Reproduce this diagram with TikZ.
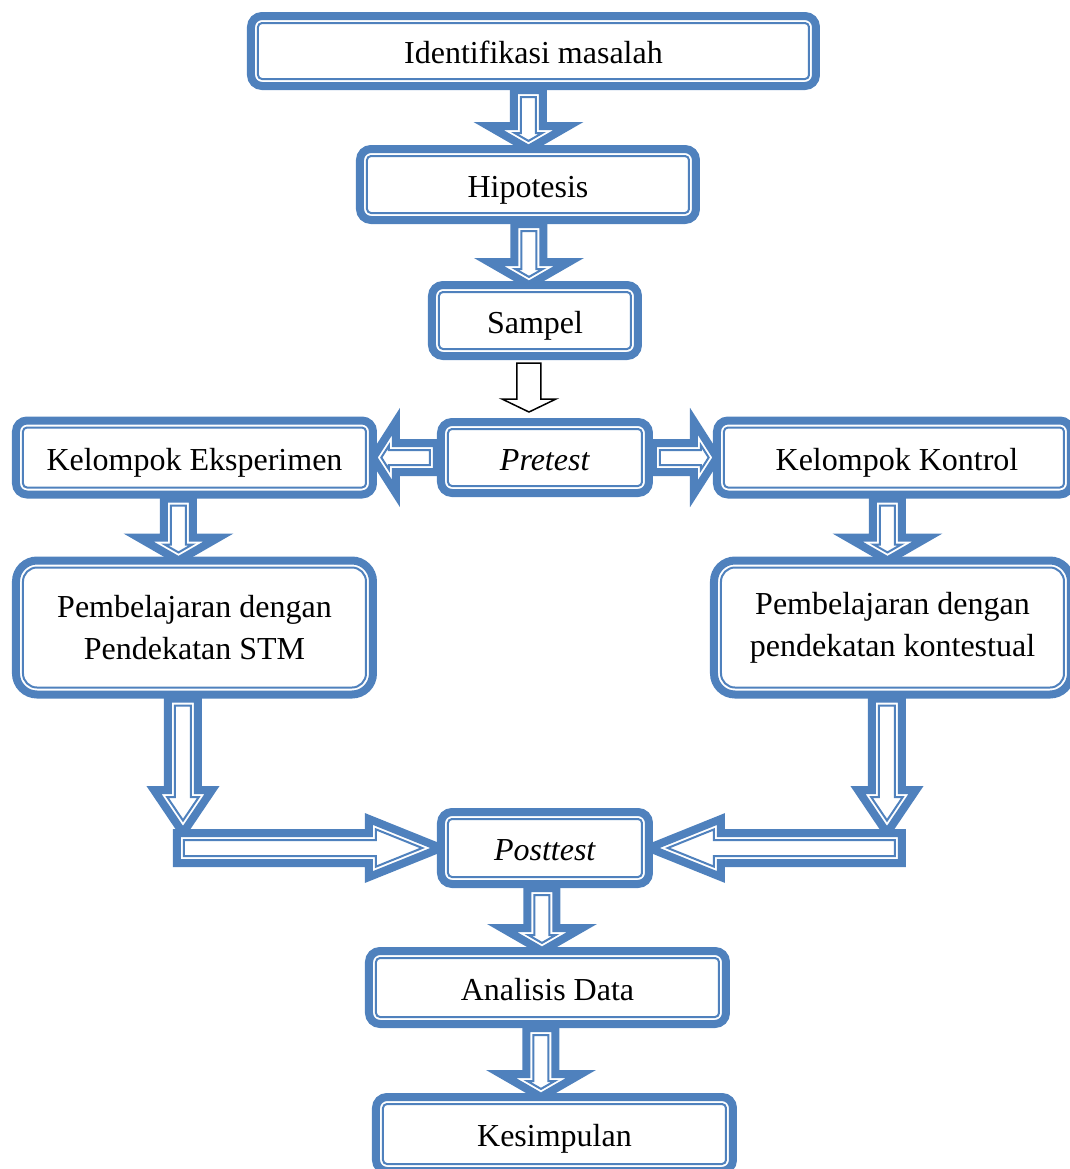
\documentclass[tikz,border=0pt]{standalone}
\usepackage{fontspec}
\setmainfont{Liberation Serif}
\usepackage{xcolor}
\usetikzlibrary{positioning,calc}
\definecolor{OBlue}{HTML}{4F81BD}
\pgfdeclarelayer{back}
\pgfsetlayers{back,main}

% one arrow outline: style, tail, tip, half shaft, half head, head length
\newcommand{\arrowshape}[6]{%
  \path #2 coordinate (aT) #3 coordinate (aH);
  \path ($(aH)!#6!(aT)$) coordinate (aB);
  \filldraw[#1] ($(aT)!#4!90:(aH)$) -- ($(aB)!#4!90:(aH)$) -- ($(aB)!#5!90:(aH)$)
    -- (aH) -- ($(aB)!#5!-90:(aH)$) -- ($(aB)!#4!-90:(aH)$) -- ($(aT)!#4!-90:(aH)$) -- cycle;
}
% thick-thin block arrow: tail, tip, half shaft, half head, head length
\newcommand{\blockarrow}[5]{%
  \path #1 coordinate (bT) #2 coordinate (bH);
  \pgfmathsetlengthmacro\tipin{3.5pt/sin(atan(#4/#5))}%
  \pgfmathsetlengthmacro\lenin{#5-3.5pt-\tipin}%
  \pgfmathsetlengthmacro\headin{#4*\lenin/#5}%
  \pgfmathsetlengthmacro\shaftin{#3-3.5pt}%
  \arrowshape{thickarr}{(bT)}{(bH)}{#3}{#4}{#5}
  \arrowshape{thinarr}{($(bT)!3.5pt!(bH)$)}{($(bH)!\tipin!(bT)$)}{\shaftin}{\headin}{\lenin}
}

\begin{document}
\begin{tikzpicture}[
  node distance=29pt,
  box/.style={draw=OBlue,line width=4pt,outer sep=2pt,rounded corners=5.5pt,fill=white,
    minimum width=178.5pt,minimum height=35.5pt,inner sep=0pt,align=center,
    text height=12.8pt,text depth=0pt,font=\fontsize{16pt}{21pt}\selectfont},
  tallbox/.style={box,rounded corners=10.5pt,minimum height=67pt,text height=,text depth=},
  inline/.style={draw=OBlue,line width=1pt},
  thickarr/.style={draw=OBlue,fill=white,line width=4pt,line join=miter},
  thinarr/.style={draw=OBlue,fill=white,line width=1pt,line join=miter},
  plainarr/.style={draw=black,fill=white,line width=0.75pt,line join=miter}
]
  \useasboundingbox (-266.75pt,25.5pt) rectangle (268.25pt,-559pt);

  \node[box,minimum width=282.5pt,minimum height=35pt] (ident) {Identifikasi masalah};
  \node[box,minimum width=168pt,below=27.5pt of ident,xshift=-2.75pt] (hipo) {Hipotesis};
  \node[box,minimum width=103pt,below=28.5pt of hipo,xshift=3.5pt] (sampel) {Sampel};
  \node[box,minimum width=104pt,below=29pt of sampel,xshift=5pt] (pretest) {\textit{Pretest}};
  \node[box,minimum height=37pt,left=30pt of pretest] (eksp) {Kelompok Eksperimen};
  \node[box,minimum width=177pt,minimum height=37pt,right=30pt of pretest] (kontrol) {\hspace{3pt}Kelompok Kontrol};
  \node[tallbox,below=of eksp] (stm) {Pembelajaran dengan\\Pendekatan STM};
  \node[tallbox,below=of kontrol,xshift=-0.75pt] (kontes) {Pembelajaran dengan\\pendekatan kontestual};
  \node[box,minimum width=104pt,minimum height=36pt,below=155.5pt of pretest] (post) {\textit{Posttest}};
  \node[box,minimum height=36.5pt,below=29.5pt of post,xshift=1.25pt] (anal) {Analisis Data};
  \node[box,minimum height=37pt,below=32.5pt of anal,xshift=3.5pt] (kesim) {Kesimpulan};

  % inner thin line of the boxes
  \foreach \n/\r in {ident/2pt,hipo/2pt,sampel/2pt,pretest/2pt,eksp/2pt,kontrol/2pt,
                     post/2pt,anal/2pt,kesim/2pt,stm/7pt,kontes/7pt}
    {\draw[inline,rounded corners=\r] ([shift={(5.5pt,5.5pt)}]\n.south west)
       rectangle ([shift={(-5.5pt,-5.5pt)}]\n.north east);}

  \begin{pgfonlayer}{back}
    \foreach \a/\b/\dx in {ident/hipo/-2.5pt,hipo/sampel/0.5pt,eksp/stm/-8pt,
                           kontrol/kontes/-3.25pt,post/anal/-1.5pt,anal/kesim/-3.25pt}
      {\path ([xshift=\dx]\a.south) coordinate (dtail);
       \blockarrow{(dtail)}{($(dtail |- \b.north)+(0,-2pt)$)}{7.25pt}{20pt}{11.5pt}}
    \blockarrow{(pretest.west)}{($(pretest.west -| eksp.east)+(-2pt,0)$)}{7.25pt}{18pt}{11.5pt}
    \blockarrow{(pretest.east)}{($(pretest.east -| kontrol.west)+(2pt,0)$)}{7.25pt}{18pt}{11.5pt}

    % sampel to pretest
    \path ([xshift=-3pt,yshift=-1.5pt]sampel.south) coordinate (sdrop);
    \arrowshape{plainarr}{(sdrop)}{($(sdrop |- pretest.north)+(0,3pt)$)}{6pt}{13.5pt}{6.5pt}

    % both groups to posttest
    \path ([xshift=-5.75pt]stm.south) coordinate (ldrop);
    \coordinate (lturn) at (ldrop |- post.west);
    \path ([xshift=-2.75pt]kontes.south) coordinate (rdrop);
    \coordinate (rturn) at (rdrop |- post.east);
    \blockarrow{(ldrop)}{($(lturn)+(0,7.5pt)$)}{7.5pt}{14.5pt}{21.5pt}
    \blockarrow{(rdrop)}{($(rturn)+(0,7.5pt)$)}{7.5pt}{14.5pt}{21.5pt}
    \blockarrow{($(lturn)+(-3pt,0)$)}{([xshift=2pt]post.west)}{7.5pt}{14.5pt}{36pt}
    \blockarrow{($(rturn)+(7.5pt,0)$)}{([xshift=-2pt]post.east)}{7.5pt}{14.5pt}{36pt}
  \end{pgfonlayer}
\end{tikzpicture}
\end{document}
